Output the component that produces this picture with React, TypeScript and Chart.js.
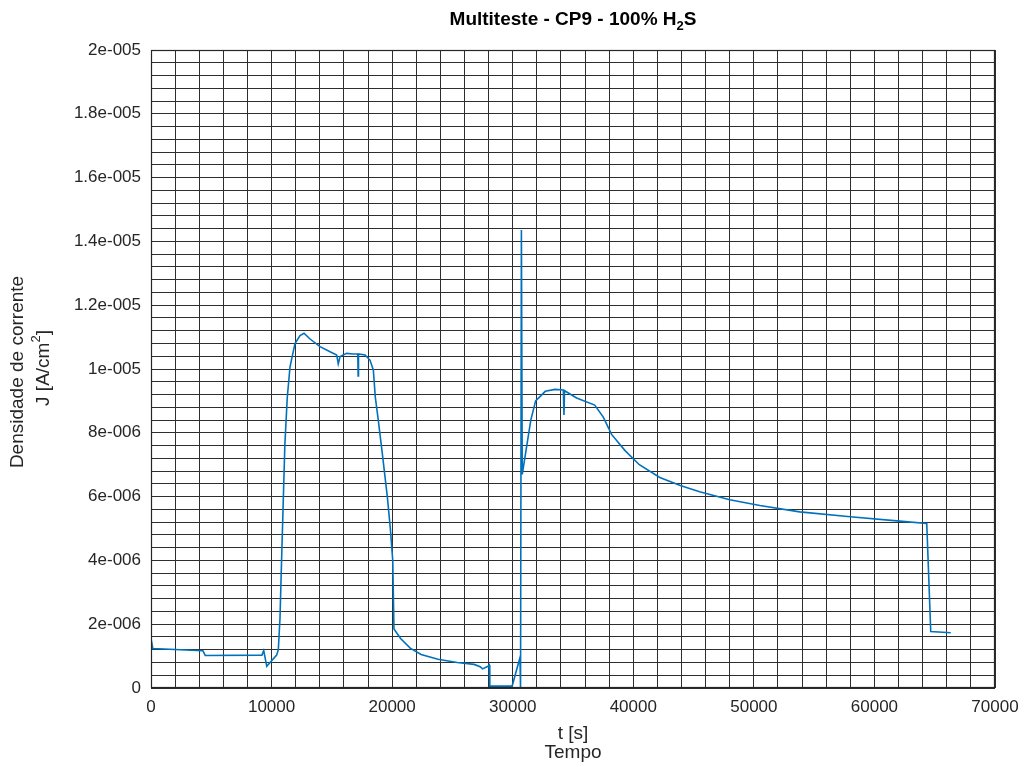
import React, { useEffect, useRef } from "react";
import { Chart, registerables } from "chart.js";

Chart.register(...registerables);

// Time in seconds
const timeSeconds = [
  0, 150, 4300, 4500, 9200, 9350, 9600, 10420, 10560, 10700, 10800, 10950,
  11100, 11300, 11530, 11940, 12360, 12690, 13190, 14020, 14850, 15400, 15530, 15680,
  16230, 16750, 17150, 17180, 17210, 17750, 18160, 18440, 18600, 18850, 19200,
  19600, 19850, 20050, 20150, 20700, 21500, 22400, 23800, 25400, 26800, 27300,
  27500, 27950, 28050, 28100, 29950, 30600, 30650, 30720, 30790, 31000, 31500,
  31900, 32700, 33500, 34200, 34250, 34300, 35300, 36800, 37500, 38200, 39300,
  40500, 42200, 43900, 45500, 48000, 50500, 53800, 58000, 62100, 64340, 64670,
  66330,
];
// Current density J in units of 1e-6 A/cm²
const currentDensityMicro = [
  1.55, 1.24, 1.17, 1.02, 1.03, 1.17, 0.68, 1.03, 1.2, 2.2, 3.6, 5.6,
  7.6, 9.1, 10.07, 10.8, 11.05, 11.12, 10.94, 10.7, 10.54, 10.44, 10.16, 10.39,
  10.49, 10.47, 10.47, 9.78, 10.47, 10.44, 10.28, 9.97, 9.13, 8.4, 7.3,
  6.0, 5.0, 4.0, 1.85, 1.55, 1.25, 1.05, 0.9, 0.8, 0.74, 0.67,
  0.6, 0.68, 0.72, 0.06, 0.06, 0.95, 0.02, 14.36, 6.7, 7.2, 8.4,
  9.0, 9.3, 9.36, 9.34, 8.56, 9.32, 9.09, 8.87, 8.5, 7.95, 7.45,
  7.0, 6.6, 6.35, 6.15, 5.9, 5.72, 5.52, 5.37, 5.23, 5.16, 1.77,
  1.73,
];

const xTickLabels = ["0", "10000", "20000", "30000", "40000", "50000", "60000", "70000"];
const yTickLabels = [
  "0", "2e-006", "4e-006", "6e-006", "8e-006", "1e-005",
  "1.2e-005", "1.4e-005", "1.6e-005", "1.8e-005", "2e-005",
];

const titleMain = "Multiteste - CP9 - 100% H";
const titleSub = "2";
const titleEnd = "S";
const yTitleLine1 = "Densidade de corrente";
const yTitleLine2a = "J [A/cm";
const yTitleSup = "2";
const yTitleLine2b = "]";
const xTitleLine1 = "t [s]";
const xTitleLine2 = "Tempo";

const FONT = "'Liberation Sans', Arial, Helvetica, sans-serif";
const TEXT_COLOR = "#262626";
const GRID_COLOR = "#2e2e2e";

export default function App() {
  const canvasRef = useRef<HTMLCanvasElement | null>(null);

  useEffect(() => {
    document.body.style.margin = "0";
    const canvas = canvasRef.current;
    if (!canvas) return;

    const labelsPlugin = {
      id: "customLabels",
      afterDraw(chart: any) {
        const ctx = chart.ctx as CanvasRenderingContext2D;
        const area = chart.chartArea;
        ctx.save();
        // box around plot
        ctx.strokeStyle = "#262626";
        ctx.lineWidth = 1.2;
        ctx.strokeRect(Math.round(area.left) + 0.5, Math.round(area.top) + 0.5,
          Math.round(area.right - area.left) - 1, Math.round(area.bottom - area.top) - 1);

        const cx = (area.left + area.right) / 2;
        ctx.fillStyle = "#000";
        // Title with subscript
        const tFont = `bold 19px ${FONT}`;
        const sFont = `bold 13px ${FONT}`;
        ctx.font = tFont;
        const w1 = ctx.measureText(titleMain).width;
        const w3 = ctx.measureText(titleEnd).width;
        ctx.font = sFont;
        const w2 = ctx.measureText(titleSub).width;
        let x = cx - (w1 + w2 + w3) / 2;
        const ty = 20;
        ctx.textBaseline = "middle";
        ctx.textAlign = "left";
        ctx.font = tFont;
        ctx.fillText(titleMain, x, ty);
        x += w1;
        ctx.font = sFont;
        ctx.fillText(titleSub, x, ty + 6);
        x += w2;
        ctx.font = tFont;
        ctx.fillText(titleEnd, x, ty);

        // X axis title
        ctx.fillStyle = TEXT_COLOR;
        ctx.font = `19px ${FONT}`;
        ctx.textAlign = "center";
        ctx.fillText(xTitleLine1, cx, 734);
        ctx.fillText(xTitleLine2, cx, 753);

        // Y axis title (rotated)
        const cy = (area.top + area.bottom) / 2 + 3;
        ctx.save();
        ctx.translate(18, cy);
        ctx.rotate(-Math.PI / 2);
        ctx.font = `19px ${FONT}`;
        ctx.textAlign = "center";
        ctx.fillText(yTitleLine1, 0, 0);
        ctx.restore();

        ctx.save();
        ctx.translate(44, cy - 4);
        ctx.rotate(-Math.PI / 2);
        ctx.font = `19px ${FONT}`;
        const a = ctx.measureText(yTitleLine2a).width;
        const c = ctx.measureText(yTitleLine2b).width;
        ctx.font = `13px ${FONT}`;
        const b = ctx.measureText(yTitleSup).width;
        let yx = -(a + b + c) / 2;
        ctx.textAlign = "left";
        ctx.font = `19px ${FONT}`;
        ctx.fillText(yTitleLine2a, yx, 0);
        yx += a;
        ctx.font = `13px ${FONT}`;
        ctx.fillText(yTitleSup, yx, -8);
        yx += b;
        ctx.font = `19px ${FONT}`;
        ctx.fillText(yTitleLine2b, yx, 0);
        ctx.restore();

        ctx.restore();
      },
    };

    const points = timeSeconds.map((t, i) => ({ x: t, y: currentDensityMicro[i] }));

    const chart = new Chart(canvas, {
      type: "line",
      data: {
        datasets: [
          {
            data: points,
            borderColor: "#0072BD",
            borderWidth: 1.6,
            pointRadius: 0,
            tension: 0,
            fill: false,
          },
        ],
      },
      options: {
        responsive: false,
        animation: false,
        layout: { padding: { top: 50, right: 30, left: 0, bottom: 0 } },
        plugins: {
          legend: { display: false },
          title: { display: false },
          tooltip: { enabled: false },
        },
        scales: {
          x: {
            type: "linear",
            min: 0,
            max: 70000,
            border: { display: false },
            grid: { color: GRID_COLOR, lineWidth: 1, drawTicks: false },
            afterFit: (scale: any) => {
              scale.height = 79;
              scale.paddingLeft = 0;
              scale.paddingRight = 0;
            },
            ticks: {
              stepSize: 2000,
              autoSkip: false,
              maxRotation: 0,
              padding: 9,
              color: TEXT_COLOR,
              font: { family: FONT, size: 17 },
              callback: (value: any) => {
                const v = Number(value);
                const k = Math.round(v / 10000);
                if (Math.abs(v - k * 10000) < 1e-6) return xTickLabels[k];
                return "";
              },
            },
          },
          y: {
            type: "linear",
            min: 0,
            max: 20,
            border: { display: false },
            grid: { color: GRID_COLOR, lineWidth: 1, drawTicks: false },
            afterFit: (scale: any) => {
              scale.width = 151;
              scale.paddingTop = 0;
              scale.paddingBottom = 0;
            },
            ticks: {
              stepSize: 0.4,
              autoSkip: false,
              padding: 10,
              color: TEXT_COLOR,
              font: { family: FONT, size: 17 },
              callback: (value: any) => {
                const v = Number(value);
                const k = Math.round(v / 2);
                if (Math.abs(v - k * 2) < 1e-6) return yTickLabels[k];
                return "";
              },
            },
          },
        },
      },
      plugins: [labelsPlugin],
    });

    return () => {
      chart.destroy();
    };
  }, []);

  return (
    <div style={{ width: 1025, height: 767, background: "#fff" }}>
      <canvas ref={canvasRef} width={1025} height={767} style={{ display: "block" }} />
    </div>
  );
}
